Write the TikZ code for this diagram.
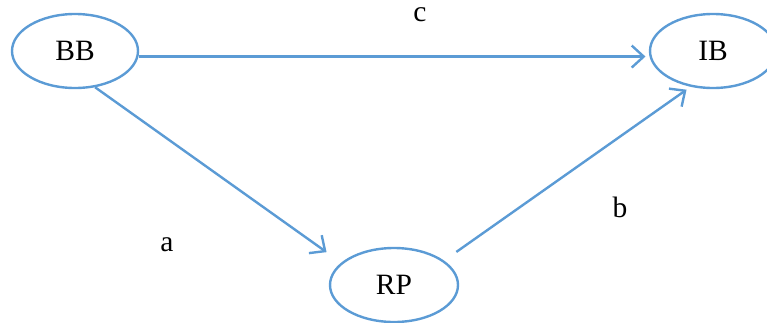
\documentclass[tikz,border=0pt]{standalone}
\usepackage{fontspec}
\setmainfont{Liberation Serif}
\usetikzlibrary{shapes.geometric,arrows.meta}
\definecolor{edgeblue}{HTML}{5B9BD5}
\tikzset{
  blob/.style={ellipse, draw=edgeblue, line width=2.4pt, minimum width=126pt, minimum height=74pt, inner sep=0pt, font=\fontsize{29.5}{32}\selectfont},
  link/.style={draw=edgeblue, line width=2.4pt, -{Straight Barb[length=12pt,width=22pt,line width=2.4pt]}},
  lab/.style={font=\fontsize{29.5}{32}\selectfont, inner sep=0pt}
}
\begin{document}
\begin{tikzpicture}[x=1pt,y=-1pt]
\useasboundingbox (0,0) rectangle (767,322);
\node[blob] (BB) at (75,51) {BB};
\node[blob] (IB) at (713,51) {IB};
\node[blob, minimum width=128pt] (RP) at (394,285) {RP};
\draw[link, shorten >=4pt] (BB.-5) -- (IB.185);
\draw[link, shorten >=18pt] (BB.-61) -- (RP.157);
\draw[link, shorten <=15pt, shorten >=5pt] (RP.26) -- (IB.238);
\node[lab] (c) at (420,15) {c};
\node[lab] (a) at (167,245) {a};
\node[lab] (b) at (620,207) {b};
\end{tikzpicture}
\end{document}
